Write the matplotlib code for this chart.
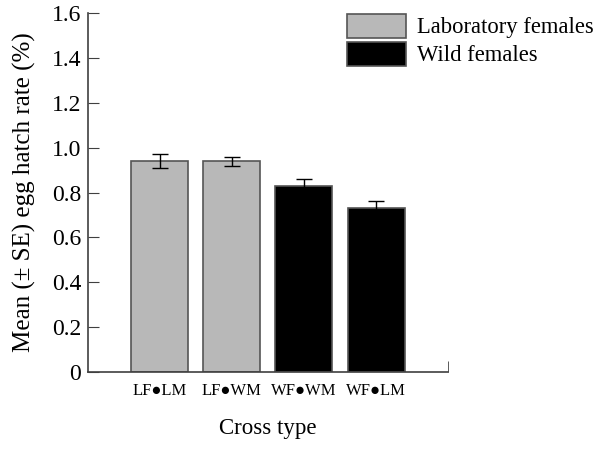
import matplotlib
matplotlib.use('Agg')
import matplotlib.pyplot as plt
import numpy as np

# 数据
crosses = ['LF\u25cfLM', 'LF\u25cfWM', 'WF\u25cfWM', 'WF\u25cfLM']
means = [0.940, 0.939, 0.829, 0.732]
errs = [0.031, 0.020, 0.032, 0.028]
groups = ['Laboratory females', 'Laboratory females', 'Wild females', 'Wild females']
colors = {'Laboratory females': '#b8b8b8', 'Wild females': '#000000'}
yticks = [0, 0.2, 0.4, 0.6, 0.8, 1.0, 1.2, 1.4, 1.6]
yticklabels = ['0', '0.2', '0.4', '0.6', '0.8', '1.0', '1.2', '1.4', '1.6']

plt.rcParams['font.family'] = ['Liberation Serif', 'DejaVu Serif']

fig = plt.figure(figsize=(6, 4.53), dpi=100, facecolor='white')
ax = fig.add_axes([0.147, 0.179, 0.6, 0.792])

x = np.arange(len(crosses))
seen = set()
for i in range(len(crosses)):
    g = groups[i]
    lab = g if g not in seen else None
    seen.add(g)
    ax.bar(x[i], means[i], width=0.79, color=colors[g],
           edgecolor='#555555', linewidth=1.2, label=lab, zorder=2)
    ax.errorbar(x[i], means[i], yerr=errs[i], fmt='none', ecolor='black',
                elinewidth=1.0, capsize=5.5, capthick=1.0, zorder=3)

ax.set_xlim(-0.99, 4.0)
ax.set_ylim(0, 1.6)
ax.set_yticks(yticks)
ax.set_yticklabels(yticklabels, fontsize=17)
ax.set_xticks(x)
ax.set_xticklabels(crosses, fontsize=12)
# 右端的小刻度
ax.set_xticks([4.0], minor=True)
ax.tick_params(axis='x', which='major', length=0, pad=8)
ax.tick_params(axis='x', which='minor', direction='in', length=8, color='#404040')
ax.tick_params(axis='y', direction='in', length=8, color='#404040', pad=5)

for s in ['top', 'right']:
    ax.spines[s].set_visible(False)
for s in ['left', 'bottom']:
    ax.spines[s].set_color('#404040')
    ax.spines[s].set_linewidth(1.2)

ax.set_ylabel('Mean (\u00b1 SE) egg hatch rate (%)', fontsize=18, labelpad=11)
ax.set_xlabel('Cross type', fontsize=16.5, labelpad=14)

leg = fig.legend(loc='upper left', bbox_to_anchor=(0.563, 0.99), frameon=False,
                 fontsize=16.3, handlelength=2.6, handleheight=1.26,
                 labelspacing=0.15, handletextpad=0.5, borderaxespad=0)

fig.savefig('out.png', dpi=100, facecolor='white')
